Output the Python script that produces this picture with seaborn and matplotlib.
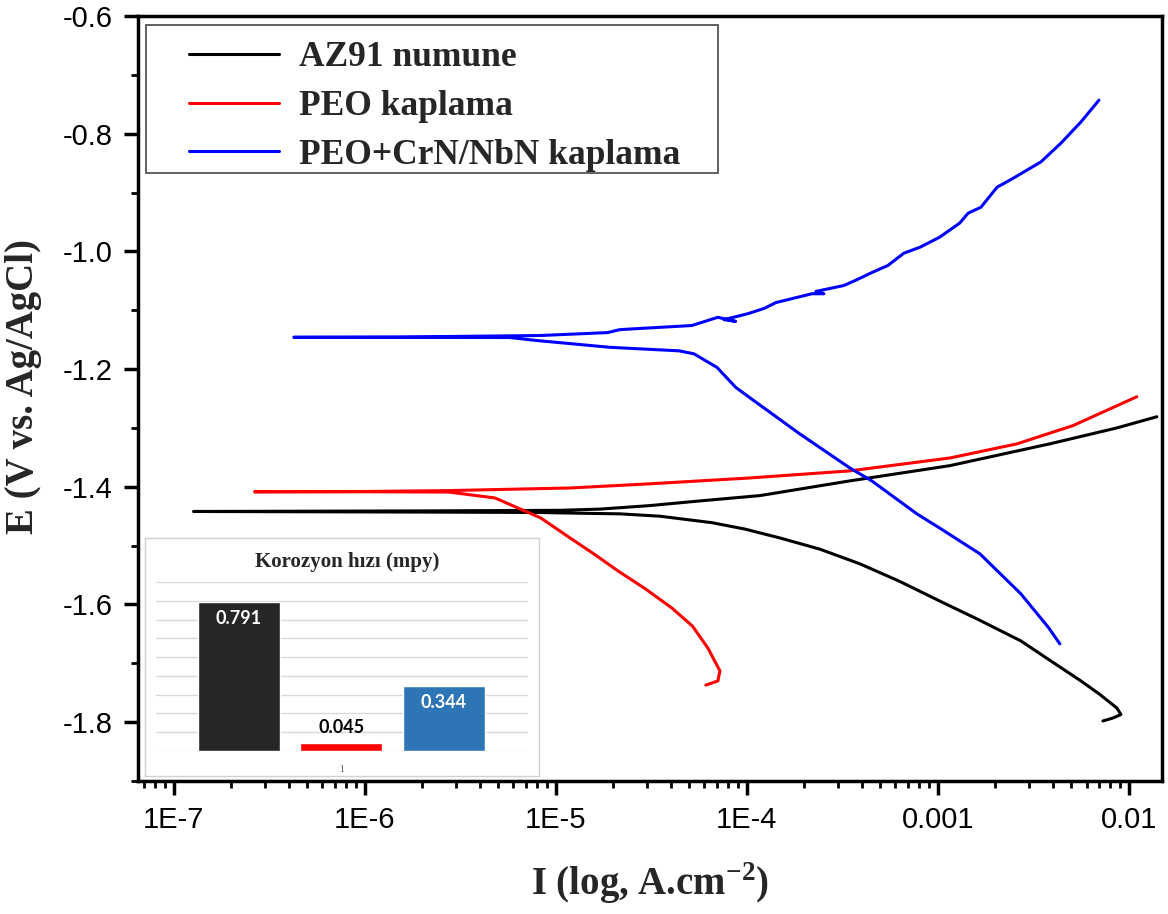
import numpy as np
import pandas as pd
import matplotlib
matplotlib.use("Agg")
import matplotlib.pyplot as plt
from matplotlib.patches import Rectangle
from matplotlib.ticker import LogLocator, NullFormatter, MultipleLocator
import seaborn as sns

# Tafel curves, following the trace:
# cathodic end -> corrosion potential (left) -> anodic end
az91_i = [7.31e-3, 8.24e-3, 9.08e-3, 8.65e-3, 7.05e-3, 5.61e-3, 3.86e-3, 2.72e-3,
          1.66e-3, 1.02e-3, 6.33e-4, 3.91e-4, 2.41e-4, 1.49e-4, 9.8e-5, 6.56e-5,
          3.5e-5, 2.16e-5, 1.34e-5, 8.2e-6, 2.0e-6, 1.27e-7,
          2.0e-6, 1.05e-5, 1.7e-5, 3.1e-5, 5.7e-5, 1.17e-4, 3.46e-4, 1.16e-3,
          3.86e-3, 8.65e-3, 1.4e-2]
az91_e = [-1.798, -1.793, -1.787, -1.776, -1.753, -1.730, -1.695, -1.662,
          -1.627, -1.594, -1.561, -1.531, -1.506, -1.487, -1.472, -1.461,
          -1.450, -1.446, -1.445, -1.4437, -1.443, -1.442,
          -1.441, -1.440, -1.438, -1.432, -1.424, -1.415, -1.390, -1.364,
          -1.327, -1.300, -1.281]

peo_i = [6.1e-5, 7.05e-5, 7.23e-5, 6.25e-5, 5.2e-5, 4.05e-5, 2.9e-5, 2.16e-5,
         1.58e-5, 1.2e-5, 8.34e-6, 6.33e-6, 4.8e-6, 2.75e-6, 1.0e-6, 2.65e-7,
         1.0e-6, 2.75e-6, 1.2e-5, 3.1e-5, 1.04e-4, 3.46e-4, 1.16e-3, 2.6e-3,
         5.1e-3, 1.1e-2]
peo_e = [-1.737, -1.730, -1.713, -1.674, -1.637, -1.606, -1.572, -1.545,
         -1.514, -1.488, -1.453, -1.436, -1.419, -1.409, -1.4085, -1.4085,
         -1.408, -1.4065, -1.402, -1.395, -1.385, -1.373, -1.351, -1.327,
         -1.296, -1.247]

crn_i = [4.35e-3, 3.81e-3, 2.72e-3, 1.66e-3, 1.02e-3, 7.76e-4, 4.51e-4, 3.46e-4,
         1.89e-4, 1.04e-4, 8.74e-5, 6.97e-5, 5.28e-5, 4.41e-5, 1.92e-5, 7.96e-6,
         5.74e-6, 1.5e-6, 4.25e-7,
         1.5e-6, 8.24e-6, 1.87e-5, 2.16e-5, 2.75e-5, 5.15e-5, 7.05e-5, 8.74e-5,
         7.59e-5, 1.01e-4, 1.23e-4, 1.42e-4, 2.19e-4, 2.53e-4, 2.30e-4, 3.22e-4,
         3.72e-4, 4.51e-4, 5.47e-4, 6.64e-4, 8.05e-4, 1.02e-3, 1.30e-3, 1.44e-3,
         1.68e-3, 2.04e-3, 2.47e-3, 3.46e-3, 4.41e-3, 5.61e-3, 6.97e-3]
crn_e = [-1.667, -1.640, -1.582, -1.514, -1.470, -1.446, -1.390, -1.368,
         -1.310, -1.249, -1.231, -1.197, -1.174, -1.169, -1.163, -1.1515,
         -1.1464, -1.1462, -1.146,
         -1.1455, -1.143, -1.138, -1.133, -1.131, -1.126, -1.112, -1.119,
         -1.116, -1.106, -1.097, -1.087, -1.072, -1.072, -1.068, -1.058,
         -1.049, -1.036, -1.024, -1.003, -0.993, -0.976, -0.952, -0.935,
         -0.925, -0.891, -0.876, -0.848, -0.816, -0.780, -0.743]

series_names = ["AZ91 numune", "PEO kaplama", "PEO+CrN/NbN kaplama"]
series_colors = ["#000000", "#ff0000", "#0000ff"]

# inset: corrosion rate (mpy)
rate_names = series_names
rate_values = [0.791, 0.045, 0.344]
rate_text = ["0.791", "0.045", "0.344"]
rate_colors = ["#262626", "#ff0000", "#2e75b6"]

y_ticks = [-1.8, -1.6, -1.4, -1.2, -1.0, -0.8, -0.6]
x_ticks = [1e-7, 1e-6, 1e-5, 1e-4, 1e-3, 1e-2]
x_ticklabels = ["1E-7", "1E-6", "1E-5", "1E-4", "0.001", "0.01"]

sns.set_theme(style="ticks")
plt.rcParams["font.family"] = ["Liberation Sans", "DejaVu Sans"]
plt.rcParams["axes.unicode_minus"] = False

fig = plt.figure(figsize=(11.68, 9.14), dpi=100)
W, H = 1168, 914
ax = fig.add_axes([138 / W, 1 - 781 / H, 1024 / W, 765 / H])

df = pd.concat([
    pd.DataFrame({"I": az91_i, "E": az91_e, "numune": series_names[0]}),
    pd.DataFrame({"I": peo_i, "E": peo_e, "numune": series_names[1]}),
    pd.DataFrame({"I": crn_i, "E": crn_e, "numune": series_names[2]}),
], ignore_index=True)

sns.lineplot(data=df, x="I", y="E", hue="numune", hue_order=series_names,
             palette=series_colors, sort=False, estimator=None, linewidth=2.2,
             ax=ax, legend=False)
ax.set_xscale("log")
ax.set_xlim(6.5e-8, 1.49e-2)
ax.set_ylim(-1.9, -0.6)

ax.set_yticks(y_ticks, labels=[f"{v:.1f}" for v in y_ticks])
ax.yaxis.set_minor_locator(MultipleLocator(0.1))
ax.set_xticks(x_ticks, labels=x_ticklabels)
ax.xaxis.set_minor_locator(LogLocator(base=10, subs=np.arange(2, 10)))
ax.xaxis.set_minor_formatter(NullFormatter())
ax.tick_params(which="major", direction="out", length=10, width=2.5,
               labelsize=21, pad=8, color="black", labelcolor="black")
ax.tick_params(which="minor", direction="out", length=5, width=2, color="black")
ax.tick_params(top=False, right=False, which="both")
for s in ax.spines.values():
    s.set_visible(True)
    s.set_linewidth(2.5)
    s.set_color("black")

lab_font = dict(fontfamily="Liberation Serif", fontweight="bold", fontsize=28)
ax.set_xlabel("I (log, A.cm$^{\\mathregular{-2}}$)", **lab_font)
ax.set_ylabel("E (V vs. Ag/AgCl)", **lab_font)
ax.xaxis.set_label_coords(0.5, -0.103)
ax.yaxis.set_label_coords(-0.094, 0.516)

# legend, with a plain box drawn around it
ax.add_patch(Rectangle((8 / 1024, 1 - 157 / 765), 572 / 1024, 148 / 765,
                       transform=ax.transAxes, fill=False, edgecolor="#555555",
                       linewidth=1.3, zorder=4))
ax.legend(handles=ax.lines[:3], labels=series_names, loc="upper left",
          bbox_to_anchor=(51 / 1024, 1 - 25 / 765), frameon=False,
          borderpad=0, borderaxespad=0, handlelength=2.55, handletextpad=0.55,
          labelspacing=0.45,
          prop={"family": "Liberation Serif", "weight": "bold", "size": 25.5})

# inset bar chart
panel = fig.add_axes([145 / W, 1 - 776 / H, 394 / W, 238 / H], zorder=5)
panel.set_facecolor("white")
panel.set_xticks([])
panel.set_yticks([])
for s in panel.spines.values():
    s.set_color("#d0d0d0")
    s.set_linewidth(1)
panel.text((347 - 145) / 394, (776 - 562) / 238, "Korozyon hızı (mpy)",
           ha="center", va="center", transform=panel.transAxes,
           fontfamily="Liberation Serif", fontweight="bold", fontsize=15)

bax = fig.add_axes([156 / W, 1 - 751 / H, 372 / W, 169 / H], zorder=6)
bax.patch.set_alpha(0)
sns.barplot(x=rate_names, y=rate_values, hue=rate_names, palette=rate_colors,
            width=0.8, saturation=1, legend=False, ax=bax, zorder=3)
bax.set_ylim(0, 0.9)
bax.set_xlim(-0.81, 2.82)
bax.set_yticks(np.arange(0, 0.91, 0.1))
bax.yaxis.grid(True, color="#d9d9d9", linewidth=1)
bax.set_axisbelow(True)
bax.set_xticks([1], labels=["1"])
bax.tick_params(left=False, labelleft=False, bottom=False, labelsize=7,
                labelcolor="#595959", pad=4)
for lbl in bax.get_xticklabels():
    lbl.set_fontfamily("Liberation Serif")
bax.set_xlabel("")
bax.set_ylabel("")
for s in bax.spines.values():
    s.set_visible(False)

val_font = dict(fontfamily=["Lato", "DejaVu Sans"], fontweight="bold", fontsize=13)
for cont, txt, val in zip(bax.containers, rate_text, rate_values):
    if val > 0.1:
        bax.bar_label(cont, labels=[txt], padding=-18, color="white", **val_font)
    else:
        bax.bar_label(cont, labels=[txt], padding=5, color="black", **val_font)

fig.savefig("out.png", dpi=100, facecolor="white")
